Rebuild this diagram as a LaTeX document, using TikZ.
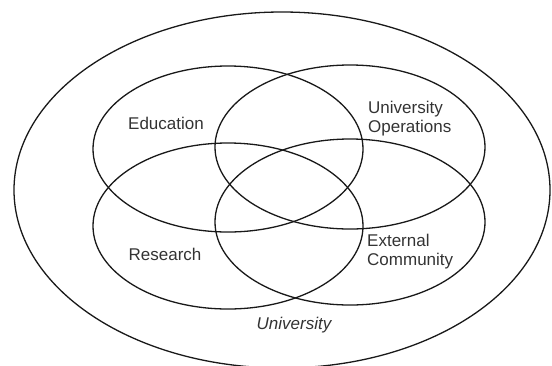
\documentclass[tikz,border=0pt]{standalone}
\usepackage{fontspec}
\setmainfont{Liberation Sans}
\usepackage{tikz}

\tikzset{
  ring/.style={black!90, line width=1.3pt},
  lbl/.style={text=black!80, inner sep=0pt, font=\fontsize{17}{19}\selectfont, align=left}
}

\begin{document}
\begin{tikzpicture}[x=1pt, y=-1pt]
\clip (0,0) rectangle (552,365);

% whole university
\draw [ring] (282,190) ellipse [x radius=268, y radius=178];

% the four areas
\draw [ring] (228,149) ellipse [x radius=135, y radius=83];
\draw [ring] (350,147) ellipse [x radius=135, y radius=82];
\draw [ring] (228,226) ellipse [x radius=135, y radius=83];
\draw [ring] (350,222) ellipse [x radius=135, y radius=83];

\node [lbl] (edu) at (166,123) {Education};
\node [lbl, anchor=west] (ops) at (368,119) {University\\Operations};
\node [lbl] (res) at (165,254) {Research};
\node [lbl, anchor=west] (ext) at (367,252) {External\\Community};
\node [lbl, font=\fontsize{17}{19}\selectfont\itshape] (uni) at (294,325) {University};
\end{tikzpicture}
\end{document}
